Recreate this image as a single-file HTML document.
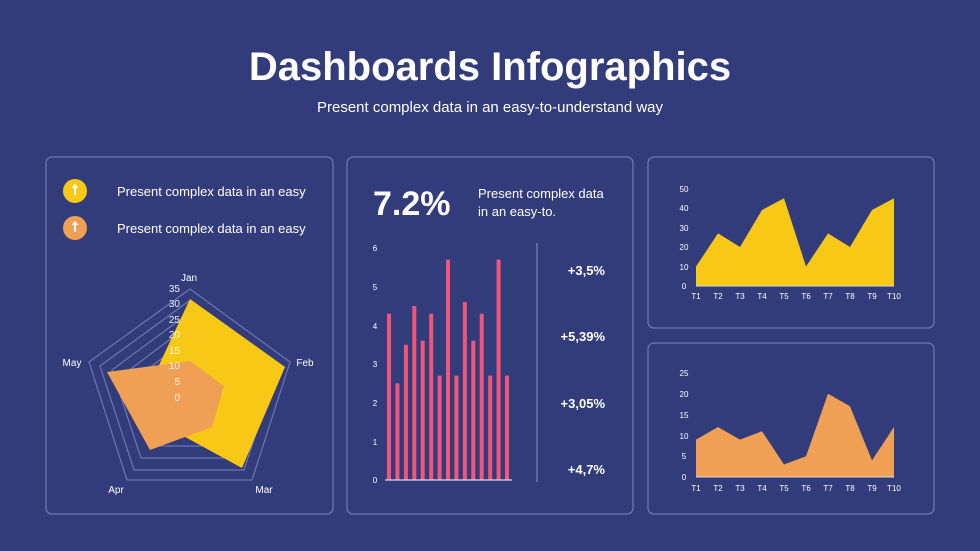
<!DOCTYPE html>
<html><head><meta charset="utf-8"><style>
html,body{margin:0;padding:0;background:#323c7a;}
svg{display:block;font-family:"Liberation Sans",sans-serif;}
</style></head><body>
<svg width="980" height="551" viewBox="0 0 980 551" xmlns="http://www.w3.org/2000/svg">
<rect width="980" height="551" fill="#323c7a"/>
<text x="490" y="80" text-anchor="middle" fill="#fff" font-size="40" font-weight="bold">Dashboards Infographics</text>
<text x="490" y="112" text-anchor="middle" fill="#fff" font-size="15">Present complex data in an easy-to-understand way</text>
<g fill="none" stroke="#6d76b0" stroke-width="1.3">
<rect x="46" y="157" width="287" height="357" rx="6"/>
<rect x="347" y="157" width="286" height="357" rx="6"/>
<rect x="648" y="157" width="286" height="171" rx="6"/>
<rect x="648" y="343" width="286" height="171" rx="6"/>
</g>
<!-- left legend -->
<circle cx="75" cy="191" r="12" fill="#f7c816"/>
<path d="M75 184 l-3.5 4 h2.5 v7 h2 v-7 h2.5z" fill="#fff"/>
<circle cx="75" cy="228" r="12" fill="#f0a055"/>
<path d="M75 221 l-3.5 4 h2.5 v7 h2 v-7 h2.5z" fill="#fff"/>
<text x="117" y="196" fill="#fff" font-size="13">Present complex data in an easy</text>
<text x="117" y="233" fill="#fff" font-size="13">Present complex data in an easy</text>
<!-- radar grid -->
<g fill="none" stroke="#6d76b0" stroke-width="1.2">
<polygon points="190,289 290,362 252,480 127,480 89,362"/>
<polygon points="189,301 278,366 244,470 134,470 100,366"/>
<polygon points="189,313 266,370 237,458 141,458 112,370"/>
<polygon points="189,325 254,374 229,446 149,446 124,374"/>
<polygon points="189,338 242,378 222,434 156,434 136,378"/>
</g>
<polygon points="190,299 285,367 242,468 176,432 152,380" fill="#f7c816"/>
<polygon points="190,361 224,386 212,427 150,450 107,372" fill="#f0a055"/>
<g fill="#fff" font-size="10" text-anchor="middle">
<text x="189" y="281">Jan</text><text x="305" y="366">Feb</text><text x="264" y="493">Mar</text>
<text x="116" y="493">Apr</text><text x="72" y="366">May</text>
</g>
<g fill="#fff" font-size="10" text-anchor="end" opacity="0.9">
<text x="180" y="292">35</text><text x="180" y="307">30</text><text x="180" y="323">25</text><text x="180" y="338">20</text><text x="180" y="354">15</text><text x="180" y="369">10</text><text x="180" y="385">5</text><text x="180" y="401">0</text>
</g>
<!-- middle -->
<text x="373" y="215" fill="#fff" font-size="34" font-weight="bold">7.2%</text>
<text x="478" y="198" fill="#fff" font-size="13">Present complex data</text>
<text x="478" y="216" fill="#fff" font-size="13">in an easy-to.</text>
<g fill="#fff" font-size="8" text-anchor="middle">
<text x="375" y="483">0</text><text x="375" y="445">1</text><text x="375" y="406">2</text><text x="375" y="367">3</text><text x="375" y="329">4</text><text x="375" y="290">5</text><text x="375" y="251">6</text>
</g>
<g fill="#f0557a">
<rect x="387" y="313.7" width="4" height="166.3"/>
<rect x="395.4" y="383.3" width="4" height="96.7"/>
<rect x="403.9" y="344.7" width="4" height="135.3"/>
<rect x="412.3" y="306" width="4" height="174"/>
<rect x="420.7" y="340.8" width="4" height="139.2"/>
<rect x="429.2" y="313.7" width="4" height="166.3"/>
<rect x="437.6" y="375.6" width="4" height="104.4"/>
<rect x="446" y="259.6" width="4" height="220.4"/>
<rect x="454.4" y="375.6" width="4" height="104.4"/>
<rect x="462.9" y="302.1" width="4" height="177.9"/>
<rect x="471.3" y="340.8" width="4" height="139.2"/>
<rect x="479.7" y="313.7" width="4" height="166.3"/>
<rect x="488.2" y="375.6" width="4" height="104.4"/>
<rect x="496.6" y="259.6" width="4" height="220.4"/>
<rect x="505" y="375.6" width="4" height="104.4"/>
</g>
<line x1="385" y1="480" x2="512" y2="480" stroke="#fff" stroke-width="1"/>
<line x1="537" y1="243" x2="537" y2="482" stroke="#8a92c4" stroke-width="1"/>
<g fill="#fff" font-size="13" font-weight="bold" text-anchor="end">
<text x="605" y="275">+3,5%</text><text x="605" y="341">+5,39%</text><text x="605" y="408">+3,05%</text><text x="605" y="474">+4,7%</text>
</g>
<!-- top right -->
<polygon points="696,286 696,266.5 718,233.4 740,247 762,210 784,198.3 806,266.5 828,233.4 850,247 872,210 894,198.3 894,286" fill="#f7c816"/>
<line x1="696" y1="286" x2="894" y2="286" stroke="#ddd" stroke-width="1"/>
<g fill="#fff" font-size="8" text-anchor="middle">
<text x="684" y="289">0</text><text x="684" y="270">10</text><text x="684" y="250">20</text><text x="684" y="231">30</text><text x="684" y="211">40</text><text x="684" y="192">50</text>
<text x="696" y="299">T1</text><text x="718" y="299">T2</text><text x="740" y="299">T3</text><text x="762" y="299">T4</text><text x="784" y="299">T5</text><text x="806" y="299">T6</text><text x="828" y="299">T7</text><text x="850" y="299">T8</text><text x="872" y="299">T9</text><text x="894" y="299">T10</text>
</g>
<!-- bottom right -->
<polygon points="696,477 696,439.6 718,427 740,439.6 762,431.2 784,464.5 806,456.2 828,393.8 850,406.3 872,460.4 894,427 894,477" fill="#f0a055"/>
<line x1="696" y1="477" x2="894" y2="477" stroke="#ddd" stroke-width="1"/>
<g fill="#fff" font-size="8" text-anchor="middle">
<text x="684" y="480">0</text><text x="684" y="459">5</text><text x="684" y="439">10</text><text x="684" y="418">15</text><text x="684" y="397">20</text><text x="684" y="376">25</text>
<text x="696" y="491">T1</text><text x="718" y="491">T2</text><text x="740" y="491">T3</text><text x="762" y="491">T4</text><text x="784" y="491">T5</text><text x="806" y="491">T6</text><text x="828" y="491">T7</text><text x="850" y="491">T8</text><text x="872" y="491">T9</text><text x="894" y="491">T10</text>
</g>
</svg>
</body></html>
